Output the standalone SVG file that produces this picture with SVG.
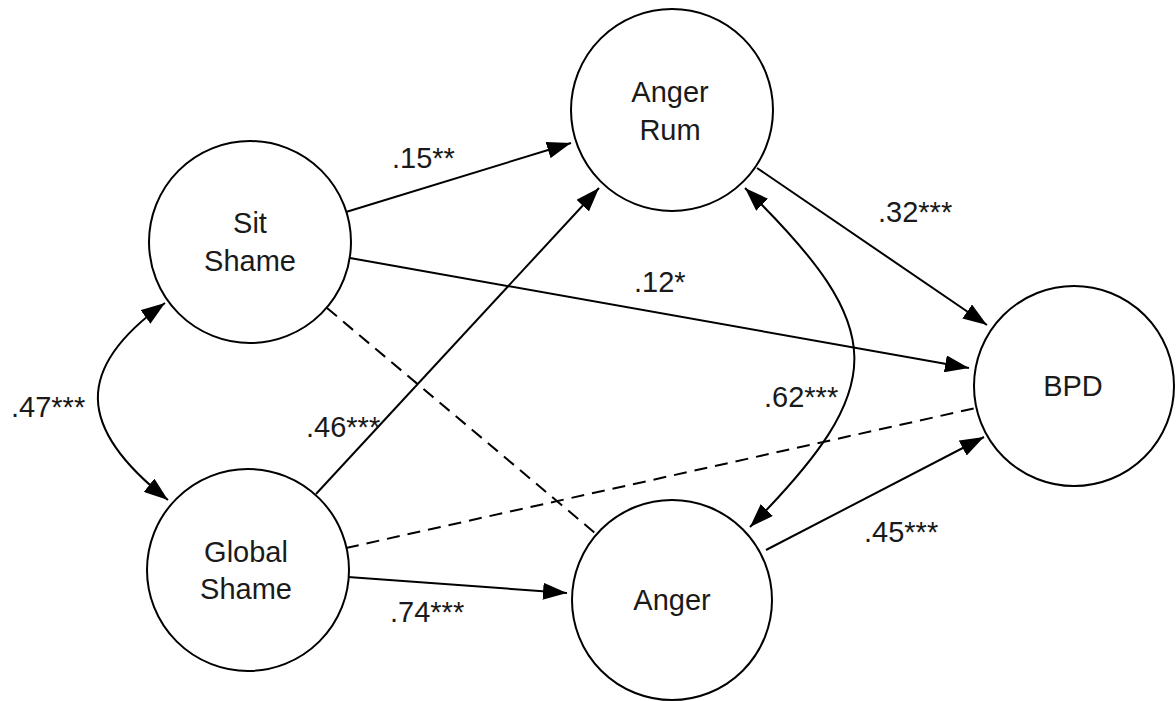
<svg xmlns="http://www.w3.org/2000/svg" width="1176" height="701" viewBox="0 0 1176 701">
<style>
.node{fill:#fff;stroke:#000;stroke-width:2}
.lbl{font-family:"Liberation Sans",Arial,sans-serif;font-size:29px;fill:#1a1a1a}
.nt{font-family:"Liberation Sans",Arial,sans-serif;font-size:29px;fill:#1a1a1a;text-anchor:middle}
.e{fill:none;stroke:#000;stroke-width:2}
.d{fill:none;stroke:#000;stroke-width:2;stroke-dasharray:13 8}
</style>
<defs>
<marker id="ah" markerUnits="userSpaceOnUse" markerWidth="24" markerHeight="17" refX="24" refY="8.5" orient="auto-start-reverse" viewBox="0 0 24 17">
<path d="M0,0 L24,8.5 L0,17 z" fill="#000"/>
</marker>
</defs>
<rect width="1176" height="701" fill="#fff"/>
<g id="connectors">
<path class="e" d="M346,212 L571,143" marker-end="url(#ah)"/>
<path class="e" d="M350,258 L969,368" marker-end="url(#ah)"/>
<path class="d" d="M327,308 L595,533"/>
<path class="e" d="M316,494 L599,188" marker-end="url(#ah)"/>
<path class="d" d="M346,548 L976,408"/>
<path class="e" d="M348,577 L567,593" marker-end="url(#ah)"/>
<path class="e" d="M757,168 L987,325" marker-end="url(#ah)"/>
<path class="e" d="M766,550 L984,437" marker-end="url(#ah)"/>
<path class="e" d="M745,188 C890,330 890,385 750,527" marker-start="url(#ah)" marker-end="url(#ah)"/>
<path class="e" d="M165,303 C74,368 76,428 168,500" marker-start="url(#ah)" marker-end="url(#ah)"/>
</g>
<g id="labels">
<text class="lbl" x="392" y="168">.15**</text>
<text class="lbl" x="634" y="292">.12*</text>
<text class="lbl" x="878" y="222">.32***</text>
<text class="lbl" x="11" y="417">.47***</text>
<text class="lbl" x="306" y="437">.46***</text>
<text class="lbl" x="390" y="622">.74***</text>
<text class="lbl" x="764" y="407">.62***</text>
<text class="lbl" x="864" y="542">.45***</text>
</g>
<g id="sit-shame">
<circle class="node" cx="250" cy="242" r="101"/>
<text class="nt" x="250" y="233">Sit</text>
<text class="nt" x="250" y="271">Shame</text>
</g>
<g id="global-shame">
<circle class="node" cx="248" cy="570" r="101"/>
<text class="nt" x="246" y="562">Global</text>
<text class="nt" x="246" y="599">Shame</text>
</g>
<g id="anger-rum">
<circle class="node" cx="672" cy="110" r="101"/>
<text class="nt" x="670" y="102">Anger</text>
<text class="nt" x="670" y="140">Rum</text>
</g>
<g id="anger">
<circle class="node" cx="672" cy="600" r="100"/>
<text class="nt" x="672" y="610">Anger</text>
</g>
<g id="bpd">
<circle class="node" cx="1074" cy="386" r="100"/>
<text class="nt" x="1073" y="396">BPD</text>
</g>
</svg>
